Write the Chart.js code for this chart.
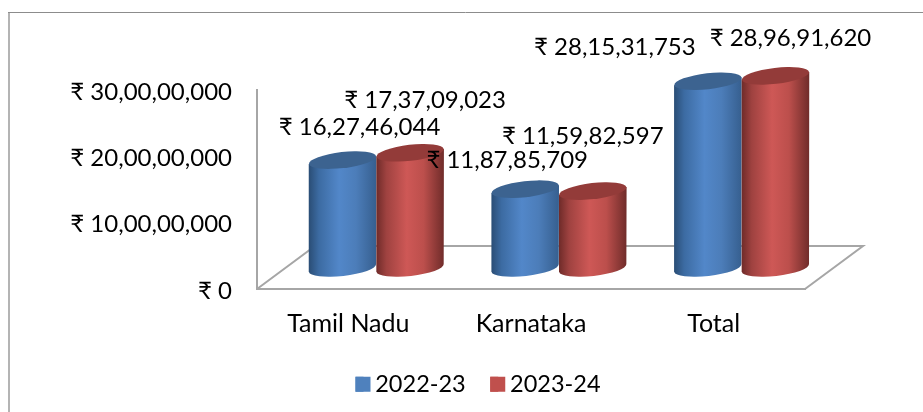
<!DOCTYPE html>
<html><head><meta charset="utf-8">
<style>html,body{margin:0;padding:0;background:#fff}#w{position:relative;width:923px;height:412px}</style>
<script src="https://cdn.jsdelivr.net/npm/chart.js@4/dist/chart.umd.js"></script>
</head><body><div id="w"><canvas id="c" width="923" height="412"></canvas></div>
<script>
const categories = ["Tamil Nadu", "Karnataka", "Total"];
const series2022 = [162746044, 118785709, 281531753];
const series2023 = [173709023, 115982597, 289691620];
const seriesNames = ["2022-23", "2023-24"];
const tickValues = [0, 100000000, 200000000, 300000000];

const FONT = 'Lato, "Noto Sans", sans-serif';
const DEPTH = {dx: 58, dy: 43, barDx: 28, barDy: 21, ry: 8, tilt: -0.115};
const LABEL_OFFSETS = [
  [[17, -33], [-18, -29], [-93, -34]],
  [[15, -53], [-10, -55], [15, -38]]
];
const SHADES = [
  {top: '#3C6390', stops: [[0,'#2A4D75'],[0.15,'#3C6BA2'],[0.45,'#5287C9'],[0.7,'#4C7DB9'],[1,'#365F8F']]},
  {top: '#933B39', stops: [[0,'#6F2B29'],[0.15,'#9F4240'],[0.45,'#CE5856'],[0.7,'#BC4F4C'],[1,'#702C2A']]}
];
const inr = v => '₹ ' + Number(v).toLocaleString('en-IN');

const cylinders = {
  id: 'cylinders',
  beforeDraw(chart) {
    const {ctx} = chart;
    ctx.save();
    ctx.strokeStyle = '#B4B4B4'; ctx.lineWidth = 2;
    ctx.beginPath(); ctx.moveTo(9, 412); ctx.lineTo(9, 12); ctx.stroke();
    ctx.strokeStyle = '#8C8C8C'; ctx.lineWidth = 1;
    ctx.beginPath(); ctx.moveTo(8, 12.5); ctx.lineTo(923, 12.5); ctx.stroke();
    ctx.restore();
  },
  beforeDatasetsDraw(chart) {
    const {ctx, chartArea: a} = chart;
    ctx.save();
    ctx.strokeStyle = '#A6A6A6'; ctx.lineWidth = 2;
    ctx.beginPath();
    ctx.moveTo(a.left, a.bottom); ctx.lineTo(a.left + DEPTH.dx, a.bottom - DEPTH.dy);
    ctx.lineTo(a.right + DEPTH.dx, a.bottom - DEPTH.dy); ctx.lineTo(a.right, a.bottom);
    ctx.stroke();
    ctx.restore();
  },
  beforeDatasetDraw() { return false; },
  afterDatasetsDraw(chart) {
    const {ctx} = chart;
    categories.forEach((_, ci) => {
      chart.data.datasets.forEach((ds, si) => {
        const el = chart.getDatasetMeta(si).data[ci];
        const p = el.getProps(['x','y','base','width'], true);
        const cx = p.x + DEPTH.barDx, rx = p.width / 2;
        const top = p.y - DEPTH.barDy, bot = p.base - DEPTH.barDy;
        const sh = SHADES[si];
        const dyEdge = rx * Math.sin(-DEPTH.tilt);
        const g = ctx.createLinearGradient(cx - rx, 0, cx + rx, 0);
        sh.stops.forEach(s => g.addColorStop(s[0], s[1]));
        ctx.save();
        ctx.fillStyle = g;
        ctx.beginPath();
        ctx.moveTo(cx - rx, top + dyEdge);
        ctx.lineTo(cx - rx, bot + dyEdge);
        ctx.ellipse(cx, bot, rx, DEPTH.ry, DEPTH.tilt, Math.PI, 0, true);
        ctx.lineTo(cx + rx, top - dyEdge);
        ctx.closePath();
        ctx.fill();
        ctx.fillStyle = sh.top;
        ctx.beginPath();
        ctx.ellipse(cx, top, rx, DEPTH.ry, DEPTH.tilt, 0, Math.PI * 2);
        ctx.fill();
        ctx.restore();
      });
    });
    ctx.save();
    ctx.font = '24px ' + FONT; ctx.fillStyle = '#000';
    ctx.textAlign = 'center'; ctx.textBaseline = 'middle';
    chart.data.datasets.forEach((ds, si) => {
      chart.getDatasetMeta(si).data.forEach((el, ci) => {
        const p = el.getProps(['x','y'], true), o = LABEL_OFFSETS[si][ci];
        ctx.fillText(inr(ds.data[ci]), p.x + DEPTH.barDx + o[0], p.y - DEPTH.barDy + o[1]);
      });
    });
    ctx.restore();
  },
  afterDraw(chart) {
    // widen the legend swatches to 15px while keeping the tight swatch-to-text gap
    const {ctx, legend} = chart;
    ctx.save();
    legend.legendHitBoxes.forEach((b, i) => {
      ctx.fillStyle = chart.data.datasets[i].backgroundColor;
      ctx.fillRect(b.left, b.top + (b.height - 15) / 2, 15, 15);
    });
    ctx.restore();
  }
};

new Chart(document.getElementById('c'), {
  type: 'bar',
  data: {
    labels: categories,
    datasets: [
      {label: seriesNames[0], data: series2022, backgroundColor: '#4F81BD', borderWidth: 0},
      {label: seriesNames[1], data: series2023, backgroundColor: '#C0504D', borderWidth: 0}
    ]
  },
  plugins: [cylinders],
  options: {
    responsive: false, animation: false,
    layout: {padding: {left: 151, top: 90, right: 118, bottom: 6}},
    datasets: {bar: {categoryPercentage: 0.74, barPercentage: 1}},
    plugins: {
      tooltip: {enabled: false},
      legend: {position: 'bottom', labels: {
        boxWidth: 8, boxHeight: 15, padding: 24.5, color: '#000', font: {family: FONT, size: 23.5}
      }}
    },
    scales: {
      x: {
        grid: {display: false, drawTicks: false},
        border: {display: true, color: '#A6A6A6', width: 2},
        ticks: {padding: 20, color: '#000', font: {family: FONT, size: 25}, maxRotation: 0},
        afterFit(s) { s.height = 59; }
      },
      y: {
        min: 0, max: 300000000,
        afterBuildTicks(s) { s.ticks = tickValues.map(v => ({value: v})); },
        grid: {display: false, drawTicks: false},
        border: {display: true, color: '#A6A6A6', width: 2},
        ticks: {padding: 25, labelOffset: 2, color: '#000', font: {family: FONT, size: 24}, callback: v => inr(v)},
        afterFit(s) { s.width = 106; s._computeLabelArea = () => undefined; }
      }
    }
  }
});
</script></body></html>
